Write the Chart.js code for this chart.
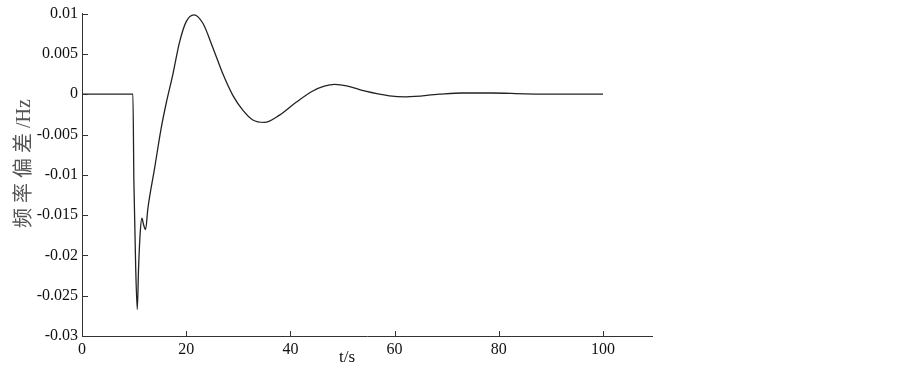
<!DOCTYPE html>
<html>
<head>
<meta charset="utf-8">
<script src="https://cdn.jsdelivr.net/npm/chart.js@4"></script>
<style>
  html, body { margin: 0; padding: 0; background: #fff; }
  #wrap { width: 903px; height: 368px; }
</style>
</head>
<body>
<div id="wrap"><canvas id="freqChart"></canvas></div>
<script>
// time (s) and frequency deviation (Hz)
const timeS = [0, 9.77, 9.96, 10.29, 10.61, 10.86, 11.19, 11.5, 11.82, 12.2, 12.65, 13.93, 15.2, 16.2, 17.45, 18.7, 20.0, 21.5, 23.2, 25.1, 27.05, 29.0, 30.9, 32.8, 35.0, 37.9, 41.1, 44.3, 46.5, 48.5, 51, 54.2, 59, 62.2, 68.6, 73, 78.5, 85, 92, 100];
const freqDev = [0, 0, -0.0109, -0.0211, -0.0267, -0.0215, -0.0170, -0.01538, -0.0162, -0.0168, -0.01415, -0.0092, -0.0042, -0.0010, 0.0025, 0.0064, 0.0090, 0.00985, 0.0088, 0.0058, 0.0025, -0.0002, -0.0020, -0.0032, -0.0035, -0.0026, -0.0010, 0.0004, 0.0010, 0.00123, 0.0010, 0.0004, -0.0002, -0.00032, 0, 0.00015, 0.00015, 0.00005, 0, 0];

const xTicks = [0, 20, 40, 60, 80, 100];
const yTicks = [0.01, 0.005, 0, -0.005, -0.01, -0.015, -0.02, -0.025, -0.03];
const xTitle = 't/s';
const yTitle = '频 率 偏 差 /Hz';

const axisColor = '#333';
const textColor = '#111';
const serif = '"Liberation Serif", "Times New Roman", serif';

// inward tick marks + axis titles
const axisDecor = {
    id: 'axisDecor',
    afterDraw(chart) {
        const ctx = chart.ctx;
        const area = chart.chartArea;
        const xs = chart.scales.x;
        const ys = chart.scales.y;
        ctx.save();
        ctx.strokeStyle = axisColor;
        ctx.lineWidth = 1;
        ctx.beginPath();
        xTicks.forEach(v => {
            const px = Math.round(xs.getPixelForValue(v)) + 0.5;
            ctx.moveTo(px, area.bottom);
            ctx.lineTo(px, area.bottom - 5);
        });
        yTicks.forEach(v => {
            const py = Math.round(ys.getPixelForValue(v)) + 0.5;
            ctx.moveTo(area.left, py);
            ctx.lineTo(area.left + 6, py);
        });
        ctx.stroke();

        ctx.fillStyle = textColor;
        ctx.font = '17px ' + serif;
        ctx.textAlign = 'center';
        ctx.textBaseline = 'alphabetic';
        ctx.fillText(xTitle, area.left + (area.right - area.left) * 0.465, 362);

        ctx.fillStyle = '#555';
        ctx.translate(30, area.top + (area.bottom - area.top) * 0.465);
        ctx.rotate(-Math.PI / 2);
        ctx.font = '20px ' + serif + ', "Noto Sans CJK SC"';
        ctx.fillText(yTitle, 0, 0);
        ctx.restore();
    }
};

document.addEventListener('DOMContentLoaded', function() {
    const ctx = document.getElementById('freqChart').getContext('2d');
    new Chart(ctx, {
        type: 'line',
        data: {
            datasets: [{
                data: timeS.map((t, i) => ({ x: t, y: freqDev[i] })),
                borderColor: '#222',
                borderWidth: 1.3,
                pointRadius: 0,
                fill: false,
                cubicInterpolationMode: 'monotone'
            }]
        },
        options: {
            responsive: true,
            maintainAspectRatio: false,
            animation: false,
            layout: { padding: { top: 11, right: 251, left: 0, bottom: 0 } },
            plugins: {
                legend: { display: false },
                tooltip: { enabled: false }
            },
            scales: {
                x: {
                    type: 'linear',
                    min: 0,
                    max: 109.4,
                    afterBuildTicks: scale => { scale.ticks = xTicks.map(v => ({ value: v })); },
                    afterFit: scale => { scale.height = 32; },
                    grid: { display: false, drawTicks: false },
                    border: { display: true, color: axisColor, width: 1 },
                    ticks: {
                        color: textColor,
                        padding: 4,
                        maxRotation: 0,
                        font: { family: serif, size: 16 }
                    }
                },
                y: {
                    min: -0.03,
                    max: 0.01,
                    afterBuildTicks: scale => { scale.ticks = yTicks.map(v => ({ value: v })); },
                    afterFit: scale => { scale.width = 82; },
                    grid: { display: false, drawTicks: false },
                    border: { display: true, color: axisColor, width: 1 },
                    ticks: {
                        color: textColor,
                        padding: 4,
                        font: { family: serif, size: 16 },
                        callback: v => String(Number(v.toFixed(3)))
                    }
                }
            }
        },
        plugins: [axisDecor]
    });
});
</script>
</body>
</html>
